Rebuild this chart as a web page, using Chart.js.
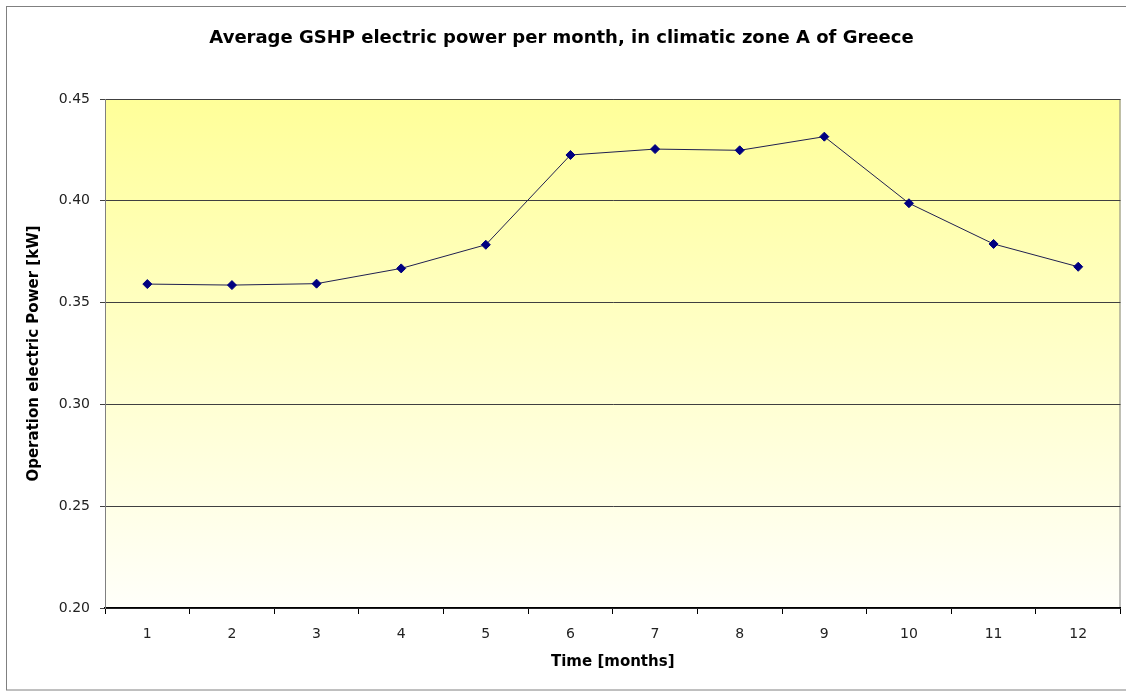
<!DOCTYPE html>
<html>
<head>
<meta charset="utf-8">
<script src="https://cdn.jsdelivr.net/npm/chart.js@4"></script>
<style>
  html, body { margin: 0; padding: 0; background: #fff; }
  #wrap { width: 1126px; height: 693px; }
</style>
</head>
<body>
<div id="wrap"><canvas id="gshp" width="1126" height="693"></canvas></div>
<script>
var months = ["1", "2", "3", "4", "5", "6", "7", "8", "9", "10", "11", "12"];
var power = [0.3591, 0.3586, 0.3593, 0.3668, 0.3784, 0.4225, 0.4254, 0.4248, 0.4315, 0.3988, 0.3788, 0.3676];
var yTicks = [0.20, 0.25, 0.30, 0.35, 0.40, 0.45];

var FONT = 'DejaVu Sans';

// yellow-to-white fill behind the plot, plus the outer frame
var backdrop = {
  id: 'backdrop',
  beforeDraw: function(chart) {
    var ctx = chart.ctx, a = chart.chartArea;
    ctx.save();
    ctx.strokeStyle = '#808080';
    ctx.lineWidth = 1;
    ctx.strokeRect(6.5, 6.5, 1130, 683.5);
    var g = ctx.createLinearGradient(0, a.top, 0, a.bottom);
    g.addColorStop(0, '#ffff99');
    g.addColorStop(1, '#fffffa');
    ctx.fillStyle = g;
    ctx.fillRect(a.left, a.top, a.right - a.left, a.bottom - a.top);
    ctx.strokeStyle = '#808080';
    ctx.strokeRect(a.left + 0.5, a.top + 0.5, a.right - a.left - 1, a.bottom - a.top);
    ctx.restore();
  }
};

new Chart(document.getElementById('gshp'), {
  type: 'line',
  data: {
    labels: months,
    datasets: [{
      data: power,
      borderColor: '#202050',
      borderWidth: 1,
      pointStyle: 'rectRot',
      pointRadius: 4.5,
      pointBackgroundColor: '#000080',
      pointBorderColor: '#000080',
      tension: 0
    }]
  },
  options: {
    responsive: false,
    animation: false,
    layout: { padding: { left: 0, right: 3, top: 0, bottom: 0 } },
    plugins: {
      legend: { display: false },
      tooltip: { enabled: false },
      title: {
        display: true,
        text: 'Average GSHP electric power per month, in climatic zone A of Greece',
        color: '#000',
        font: { family: FONT, size: 18, weight: 'bold' },
        padding: { top: 28, bottom: 49.4 }
      }
    },
    scales: {
      x: {
        offset: true,
        grid: { display: true, drawOnChartArea: false, offset: true, color: '#000', tickLength: 6 },
        border: { color: '#000', width: 1.5 },
        ticks: { color: '#222', font: { family: FONT, size: 14 }, padding: 12 },
        title: {
          display: true,
          text: 'Time [months]',
          color: '#000',
          font: { family: FONT, size: 15, weight: 'bold' },
          padding: { top: 0, bottom: 22 }
        },
        afterFit: function(s) { s.height = 85; }
      },
      y: {
        min: 0.20,
        max: 0.45,
        afterBuildTicks: function(s) { s.ticks = yTicks.map(function(v) { return { value: v }; }); },
        grid: { color: '#404040', tickLength: 5, lineWidth: 1 },
        border: { color: '#808080' },
        ticks: {
          color: '#222',
          font: { family: FONT, size: 14 },
          padding: 10,
          callback: function(v) { return v.toFixed(2); }
        },
        title: {
          display: true,
          text: 'Operation electric Power [kW]',
          color: '#000',
          font: { family: FONT, size: 15, weight: 'bold' },
          padding: { top: 25, bottom: 0 }
        },
        afterFit: function(s) { s.width = 105; }
      }
    }
  },
  plugins: [backdrop]
});
</script>
</body>
</html>
